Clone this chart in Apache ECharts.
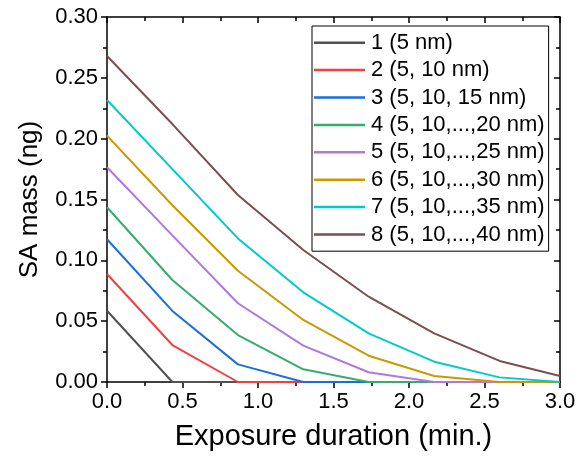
<!DOCTYPE html>
<html>
<head>
<meta charset="utf-8">
<script src="https://cdn.jsdelivr.net/npm/echarts@6/dist/echarts.min.js"></script>
<style>html,body{margin:0;padding:0;background:#fff}#c{width:579px;height:457px}</style>
</head>
<body>
<div id="c"></div>
<script>
var xTimes = [0, 0.433, 0.867, 1.3, 1.733, 2.167, 2.6, 3.0];
var seriesNames = ['1 (5 nm)', '2 (5, 10 nm)', '3 (5, 10, 15 nm)', '4 (5, 10,...,20 nm)', '5 (5, 10,...,25 nm)', '6 (5, 10,...,30 nm)', '7 (5, 10,...,35 nm)', '8 (5, 10,...,40 nm)'];
var s1 = [0.0586, 0, 0, 0, 0, 0, 0, 0];
var s2 = [0.0888, 0.0304, 0, 0, 0, 0, 0, 0];
var s3 = [0.1173, 0.0584, 0.0145, 0, 0, 0, 0, 0];
var s4 = [0.1436, 0.0838, 0.0386, 0.0104, 0, 0, 0, 0];
var s5 = [0.1765, 0.1205, 0.0647, 0.0299, 0.008, 0, 0, 0];
var s6 = [0.2025, 0.1453, 0.0915, 0.051, 0.0216, 0.0049, 0, 0];
var s7 = [0.2318, 0.175, 0.118, 0.0737, 0.040, 0.0167, 0.0038, 0];
var s8 = [0.268, 0.212, 0.1537, 0.1085, 0.0701, 0.040, 0.0173, 0.0049];
var colors = ['#515151', '#F14040', '#1A6FDF', '#37AD6B', '#B177DE', '#CC9900', '#00CBCC', '#7D4E4E'];
var xTickLabels = ['0.0', '0.5', '1.0', '1.5', '2.0', '2.5', '3.0'];

var allSeries = [s1, s2, s3, s4, s5, s6, s7, s8];
var font = 'Liberation Sans, Arial, sans-serif';
var chart = echarts.init(document.getElementById('c'), null, {renderer: 'canvas'});

var series = allSeries.map(function (vals, i) {
  return {
    name: seriesNames[i],
    type: 'line',
    xAxisIndex: 0,
    yAxisIndex: 0,
    symbol: 'none',
    color: colors[i],
    lineStyle: {width: 2, color: colors[i]},
    data: vals.map(function (v, j) { return [xTimes[j], v]; }),
    z: 2 + i,
    clip: false,
    animation: false
  };
});

var axisLine = {show: true, onZero: false, lineStyle: {color: '#000', width: 1.5}};
var option = {
  animation: false,
  backgroundColor: '#fff',
  grid: {left: 107, right: 19, top: 17, bottom: 75, containLabel: false},
  legend: {
    orient: 'vertical',
    left: 312,
    top: 26,
    width: 239,
    data: seriesNames.map(function (n) { return {name: n, icon: 'rect'}; }),
    itemWidth: 51,
    itemHeight: 2.5,
    itemGap: 5.4,
    padding: [5.7, 4, 5.7, 2],
    borderColor: '#000',
    borderWidth: 1,
    backgroundColor: '#fff',
    borderRadius: 0,
    textStyle: {fontFamily: font, fontSize: 22, color: '#000', lineHeight: 22, padding: [0, 0, 0, 1]},
    itemStyle: {opacity: 1, borderWidth: 0}
  },
  xAxis: [{
    type: 'value', position: 'bottom', min: 0, max: 3, interval: 0.5,
    name: 'Exposure duration (min.)', nameLocation: 'middle', nameGap: 40,
    nameTextStyle: {fontFamily: font, fontSize: 29, color: '#000'},
    axisLine: axisLine,
    axisTick: {show: true, inside: false, length: 6, lineStyle: {color: '#000', width: 1.5}},
    minorTick: {show: true, splitNumber: 2, length: 4, lineStyle: {color: '#000', width: 1.5}},
    axisLabel: {fontFamily: font, fontSize: 22, color: '#000', margin: 9,
      formatter: function (v) { return xTickLabels[Math.round(v / 0.5)]; }},
    splitLine: {show: false}
  }, {
    type: 'value', position: 'top', min: 0, max: 3, interval: 0.5,
    axisLine: axisLine,
    axisTick: {show: true, inside: true, length: 6, lineStyle: {color: '#000', width: 1.5}},
    minorTick: {show: true, splitNumber: 2, length: 4, lineStyle: {color: '#000', width: 1.5}},
    axisLabel: {show: false},
    splitLine: {show: false}
  }],
  yAxis: [{
    type: 'value', position: 'left', min: 0, max: 0.3, interval: 0.05,
    name: 'SA mass (ng)', nameLocation: 'middle', nameGap: 64, nameRotate: 90,
    nameTextStyle: {fontFamily: font, fontSize: 26, color: '#000'},
    axisLine: axisLine,
    axisTick: {show: true, inside: false, length: 6, lineStyle: {color: '#000', width: 1.5}},
    minorTick: {show: true, splitNumber: 2, length: 4, lineStyle: {color: '#000', width: 1.5}},
    axisLabel: {fontFamily: font, fontSize: 22, color: '#000', margin: 9,
      formatter: function (v) { return v.toFixed(2); }},
    splitLine: {show: false}
  }, {
    type: 'value', position: 'right', min: 0, max: 0.3, interval: 0.05,
    axisLine: axisLine,
    axisTick: {show: true, inside: true, length: 6, lineStyle: {color: '#000', width: 1.5}},
    minorTick: {show: true, splitNumber: 2, length: 4, lineStyle: {color: '#000', width: 1.5}},
    axisLabel: {show: false},
    splitLine: {show: false}
  }],
  series: series
};
chart.setOption(option);
</script>
</body>
</html>
